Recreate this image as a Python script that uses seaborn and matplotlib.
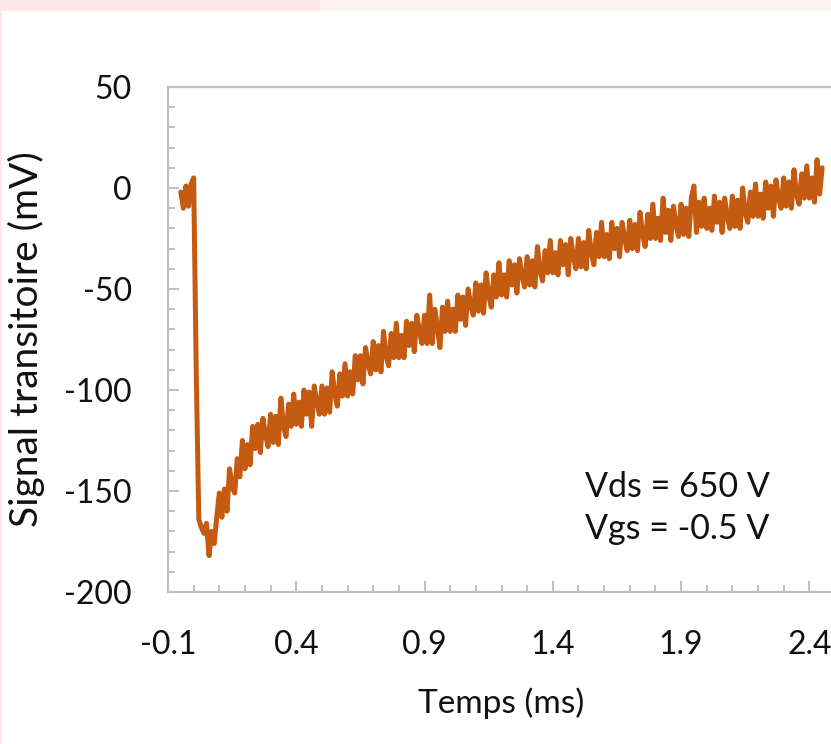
import numpy as np
import pandas as pd
import matplotlib
matplotlib.use("Agg")
import matplotlib.pyplot as plt
from matplotlib.ticker import FixedLocator, MultipleLocator
from matplotlib.patches import Rectangle
import seaborn as sns

# ---- data ----
t_start_ms = -0.05
t_step_ms = 0.01
signal_mV = [
    -2, -10, 1, -9, 2, 5,                                        # -0.05 .. 0.00
    -90, -164, -168, -171, -166, -182, -170, -176, -163,         # 0.01 .. 0.09
    -151, -163, -149, -160, -139, -148, -151, -134, -143, -125,  # 0.10 .. 0.19
    -139, -127, -137, -118, -129, -117, -131, -114, -122, -128,  # 0.20 .. 0.29
    -112, -126, -113, -127, -104, -118, -123, -107, -118, -102,  # 0.30 .. 0.39
    -117, -106, -118, -100, -112, -101, -118, -98, -106, -112,   # 0.40 .. 0.49
    -98, -112, -99, -111, -91, -102, -108, -92, -103, -87,       # 0.50 .. 0.59
    -103, -91, -102, -83, -95, -83, -97, -79, -87, -92,          # 0.60 .. 0.69
    -76, -90, -78, -91, -71, -83, -88, -72, -84, -67,            # 0.70 .. 0.79
    -84, -73, -84, -66, -78, -67, -81, -63, -71, -77,            # 0.80 .. 0.89
    -63, -77, -53, -77, -60, -69, -79, -59, -71, -56,            # 0.90 .. 0.99
    -71, -60, -71, -53, -65, -54, -68, -50, -58, -63,            # 1.00 .. 1.09
    -47, -61, -48, -62, -42, -53, -59, -43, -54, -37,            # 1.10 .. 1.19
    -53, -43, -54, -36, -48, -38, -52, -35, -43, -49,            # 1.20 .. 1.29
    -34, -48, -36, -49, -29, -41, -46, -31, -42, -26,            # 1.30 .. 1.39
    -42, -32, -43, -26, -38, -28, -43, -25, -34, -40,            # 1.40 .. 1.49
    -25, -39, -27, -40, -21, -32, -38, -22, -34, -17,            # 1.50 .. 1.59
    -34, -23, -35, -17, -30, -20, -34, -17, -25, -31,            # 1.60 .. 1.69
    -16, -30, -18, -31, -12, -23, -29, -13, -25, -8,             # 1.70 .. 1.79
    -25, -15, -26, -5, -22, -11, -26, -9, -18, -24,              # 1.80 .. 1.89
    -8, -23, -10, -24, -5, 1, -22, -7, -19, -5,                  # 1.90 .. 1.99
    -20, -10, -21, -4, -17, -7, -22, -5, -14, -20,               # 2.00 .. 2.09
    -4, -19, -6, -20, 0, -12, -17, -2, -14, 2,                   # 2.10 .. 2.19
    -14, -3, -15, 3, -10, 1, -14, 4, -5, -10,                    # 2.20 .. 2.29
    5, -9, 3, -10, 9, -3, -8, 7, -5, 11,                         # 2.30 .. 2.39
    -5, 5, -7, 14, -3, 10,                                       # 2.40 .. 2.45
]
time_ms = t_start_ms + t_step_ms * np.arange(len(signal_mV))

x_ticks = [-0.1, 0.4, 0.9, 1.4, 1.9, 2.4]
y_ticks = [50, 0, -50, -100, -150, -200]
x_label = "Temps (ms)"
y_label = "Signal transitoire (mV)"
note_lines = ["Vds = 650 V", "Vgs = -0.5 V"]

df = pd.DataFrame({"t": time_ms, "s": signal_mV})

# ---- style ----
sns.set_theme(style="white")
plt.rcParams["font.family"] = ["Lato", "DejaVu Sans"]
plt.rcParams["axes.unicode_minus"] = False

W, H = 831, 744
fig = plt.figure(figsize=(W / 100, H / 100), dpi=100)
fig.patch.set_facecolor("white")

# faint pink band at the very top of the screenshot
fig.patches.append(Rectangle((0, 1 - 11 / H), 320 / W, 11 / H, transform=fig.transFigure,
                             facecolor="#FCE8E6", edgecolor="none", zorder=0))
fig.patches.append(Rectangle((320 / W, 1 - 11 / H), 1 - 320 / W, 11 / H, transform=fig.transFigure,
                             facecolor="#FEF2F0", edgecolor="none", zorder=0))
fig.patches.append(Rectangle((0, 0), 2 / W, 1, transform=fig.transFigure,
                             facecolor="#FCEAE8", edgecolor="none", zorder=0))

ax_left, ax_right = 168, 835
ax_top, ax_bottom = 87, 592
ax = fig.add_axes([ax_left / W, 1 - ax_bottom / H,
                   (ax_right - ax_left) / W, (ax_bottom - ax_top) / H])

sns.lineplot(data=df, x="t", y="s", ax=ax, color="#C55A11", linewidth=3.6,
             estimator=None, sort=False, legend=False)

ax.set_xlim(-0.1, 2.5)
ax.set_ylim(-200, 50)

ax.xaxis.set_major_locator(FixedLocator(x_ticks))
ax.xaxis.set_minor_locator(MultipleLocator(0.1))
ax.yaxis.set_major_locator(FixedLocator(y_ticks))
ax.yaxis.set_minor_locator(MultipleLocator(10))
ax.set_xticklabels([f"{v:.1f}" for v in x_ticks])
ax.set_yticklabels([f"{v:d}" for v in y_ticks])

spine_col = "#BFBFBF"
for side in ["left", "bottom", "top"]:
    ax.spines[side].set_color(spine_col)
    ax.spines[side].set_linewidth(1.6)
ax.spines["right"].set_visible(False)

ax.tick_params(axis="both", which="major", direction="in", length=8, width=1.4,
               color=spine_col, labelsize=23, labelcolor="#111111")
ax.tick_params(axis="both", which="minor", direction="in", length=5, width=1.4,
               color=spine_col)
ax.tick_params(axis="x", which="both", top=False, bottom=True, pad=27)
ax.tick_params(axis="y", which="both", left=True, right=False, pad=26)

ax.set_xlabel(x_label, fontsize=24, color="#111111", labelpad=20)
ax.set_ylabel(y_label, fontsize=28, color="#111111", labelpad=14)

ax.text(0.625, 0.208, note_lines[0], transform=ax.transAxes, fontsize=24.5,
        color="#111111", ha="left", va="center")
ax.text(0.625, 0.124, note_lines[1], transform=ax.transAxes, fontsize=24.5,
        color="#111111", ha="left", va="center")

fig.savefig("out.png", dpi=100)
